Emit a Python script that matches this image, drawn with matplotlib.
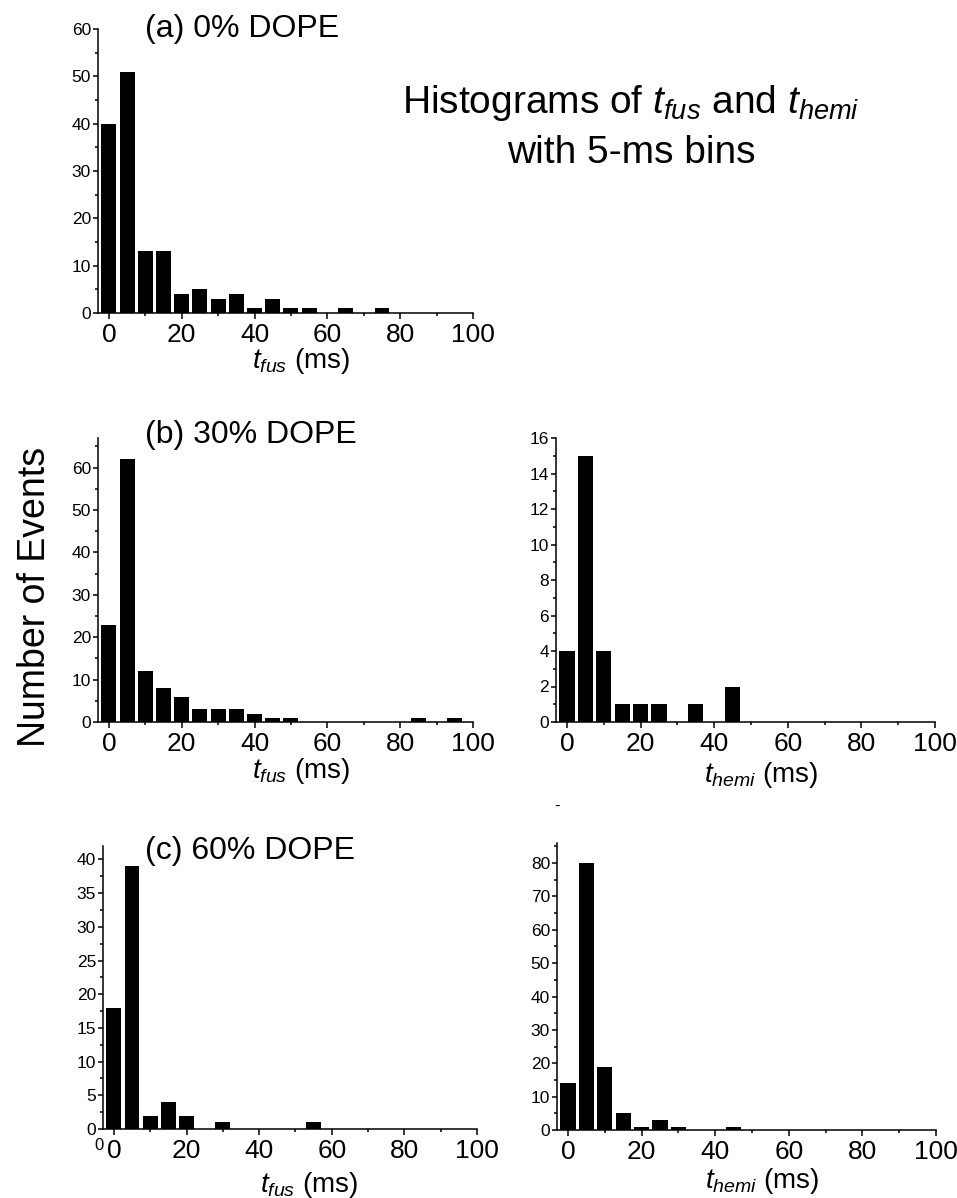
import numpy as np
import matplotlib
matplotlib.use("Agg")
import matplotlib.pyplot as plt
from matplotlib.ticker import MultipleLocator

plt.rcParams['font.family'] = ['Liberation Sans', 'DejaVu Sans']
plt.rcParams['mathtext.fontset'] = 'custom'
plt.rcParams['mathtext.rm'] = 'Liberation Sans'
plt.rcParams['mathtext.it'] = 'Liberation Sans:italic'

# 5-ms bin centres
bins = np.arange(0, 100, 5)

fus_0 = [40, 51, 13, 13, 4, 5, 3, 4, 1, 3, 1, 1, 0, 1, 0, 1, 0, 0, 0, 0]
fus_30 = [23, 62, 12, 8, 6, 3, 3, 3, 2, 1, 1, 0, 0, 0, 0, 0, 0, 1, 0, 1]
hemi_30 = [4, 15, 4, 1, 1, 1, 0, 1, 0, 2, 0, 0, 0, 0, 0, 0, 0, 0, 0, 0]
fus_60 = [18, 39, 2, 4, 2, 0, 1, 0, 0, 0, 0, 1, 0, 0, 0, 0, 0, 0, 0, 0]
hemi_60 = [14, 80, 19, 5, 1, 3, 1, 0, 0, 1, 0, 0, 0, 0, 0, 0, 0, 0, 0, 0]

W, H = 957, 1198
fig = plt.figure(figsize=(W / 100, H / 100), dpi=100)


def px_axes(left, top, right, bottom):
    return fig.add_axes([left / W, 1 - bottom / H, (right - left) / W, (bottom - top) / H])


def hist_panel(rect, counts, ymax, ymajor, yminor, xlabel, label_pos):
    ax = px_axes(*rect)
    ax.bar(bins, counts, width=4.1, color='black', edgecolor='none')
    ax.set_xlim(-3, 100)
    ax.set_ylim(0, ymax)
    ax.spines['top'].set_visible(False)
    ax.spines['right'].set_visible(False)
    for s in ('left', 'bottom'):
        ax.spines[s].set_linewidth(1.1)
    ax.xaxis.set_major_locator(MultipleLocator(20))
    ax.xaxis.set_minor_locator(MultipleLocator(10))
    ax.yaxis.set_major_locator(MultipleLocator(ymajor))
    ax.yaxis.set_minor_locator(MultipleLocator(yminor))
    ax.tick_params(axis='x', which='major', direction='out', length=4, width=1.1,
                   labelsize=19, pad=3)
    ax.tick_params(axis='x', which='minor', direction='out', length=2.5, width=1.1)
    ax.tick_params(axis='y', which='major', direction='out', length=3.5, width=1.1,
                   labelsize=12.5, pad=1.5)
    ax.tick_params(axis='y', which='minor', direction='out', length=2, width=1.1)
    ax.set_xlabel(xlabel, fontsize=20, va='top')
    ax.xaxis.set_label_coords(*label_pos)
    return ax


# (a) 0% DOPE
hist_panel((98, 29, 473, 313), fus_0, 60, 10, 5, r'$t_{fus}$ (ms)', (0.54, -0.115))
# (b) 30% DOPE
hist_panel((98, 438, 473, 722), fus_30, 67, 10, 5, r'$t_{fus}$ (ms)', (0.54, -0.12))
hist_panel((556, 438, 935, 722), hemi_30, 16, 2, 1, r'$t_{hemi}$ (ms)', (0.54, -0.135))
# (c) 60% DOPE
hist_panel((103, 846, 477, 1129), fus_60, 42, 5, 2.5, r'$t_{fus}$ (ms)', (0.55, -0.145))
hist_panel((557, 843, 936, 1130), hemi_60, 86, 10, 5, r'$t_{hemi}$ (ms)', (0.54, -0.125))

# panel labels
for text, y in [('(a) 0% DOPE', 37), ('(b) 30% DOPE', 443), ('(c) 60% DOPE', 859)]:
    fig.text(145 / W, 1 - y / H, text, fontsize=23, ha='left', va='baseline')

# title
fig.text(631 / W, 1 - 113 / H, r'Histograms of $t_{fus}$ and $t_{hemi}$',
         fontsize=28, ha='center', va='baseline')
fig.text(631 / W, 1 - 163 / H, 'with 5-ms bins', fontsize=28, ha='center', va='baseline')

# shared y label
fig.text(35 / W, 1 - 597 / H, 'Number of Events', fontsize=27, rotation=90,
         ha='center', va='center')

# stray marks in the original figure
fig.text(99 / W, 1 - 1146 / H, '0', fontsize=12, ha='center', va='center')
fig.text(557 / W, 1 - 806 / H, '-', fontsize=12, ha='center', va='center')

fig.savefig('out.png', dpi=100)
